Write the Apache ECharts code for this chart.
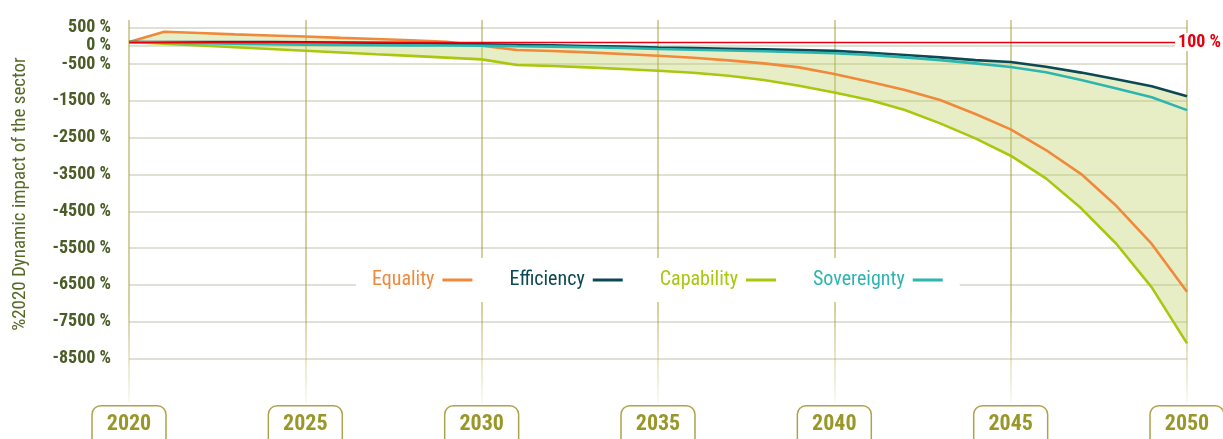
<!DOCTYPE html>
<html>
<head>
<meta charset="utf-8">
<script src="https://cdn.jsdelivr.net/npm/echarts@6/dist/echarts.min.js"></script>
<style>
html,body{margin:0;padding:0;background:#fff;}
#chart{width:1223px;height:439px;}
</style>
</head>
<body>
<div id="chart"></div>
<script>
const years = [2020,2021,2022,2023,2024,2025,2026,2027,2028,2029,2030,2031,2032,2033,2034,2035,2036,2037,2038,2039,2040,2041,2042,2043,2044,2045,2046,2047,2048,2049,2050];
const equality = [100,380,345,310,280,250,215,185,150,110,0,-117,-144,-180,-226,-272,-326,-397,-479,-588,-770,-978,-1205,-1476,-1857,-2273,-2836,-3489,-4358,-5389,-6688];
const efficiency = [100,100,100,100,100,95,90,80,70,55,40,25,10,-5,-25,-50,-65,-80,-100,-120,-140,-190,-250,-315,-390,-440,-570,-730,-910,-1100,-1370];
const capability = [100,53,6,-41,-89,-136,-183,-230,-276,-323,-370,-525,-552,-588,-634,-680,-734,-816,-933,-1088,-1270,-1476,-1748,-2110,-2518,-2990,-3606,-4421,-5391,-6569,-8091];
const sovereignty = [100,85,70,55,40,30,20,15,10,5,0,-15,-25,-40,-60,-90,-110,-130,-150,-175,-205,-250,-315,-390,-480,-580,-720,-930,-1160,-1400,-1750];
const yTicks = [500,0,-500,-1500,-2500,-3500,-4500,-5500,-6500,-7500,-8500];
const referenceValue = 100;
const yAxisName = '%2020 Dynamic impact of the sector';

const names = ['Equality','Efficiency','Capability','Sovereignty'];
const colors = ['#f0893a','#0c4954','#a9c70f','#2db5b0'];
const seriesData = [equality, efficiency, capability, sovereignty];

const FONT = "'Roboto Condensed','Liberation Sans Narrow','Arial Narrow','Roboto',sans-serif";

const lower = years.map((y,i)=>Math.min(...seriesData.map(s=>s[i])));
const upper = years.map((y,i)=>Math.max(...seriesData.map(s=>s[i])));

const chart = echarts.init(document.getElementById('chart'));

const series = [
  {
    name:'band', type:'custom', silent:true, z:1, clip:true,
    data:[0],
    renderItem:function(params, api){
      const pts = [];
      for (let i=0;i<years.length;i++) pts.push(api.coord([years[i], upper[i]]));
      for (let i=years.length-1;i>=0;i--) pts.push(api.coord([years[i], lower[i]]));
      return {type:'polygon', shape:{points:pts}, style:{fill:'rgba(189,209,98,0.36)'}};
    }
  }
];
names.forEach((n,k)=>{
  series.push({
    name:n, type:'line', symbol:'none',
    data: years.map((y,i)=>[y, seriesData[k][i]]),
    lineStyle:{color:colors[k], width:2.6},
    itemStyle:{color:colors[k]},
    z:3
  });
});
series.push({
  name:'reference', type:'line', data:[], z:2, silent:true,
  markLine:{
    silent:true, symbol:'none',
    lineStyle:{color:'#e8000f', width:1.3, type:'solid', opacity:1},
    label:{
      show:true, position:'end', formatter:referenceValue + ' %',
      color:'#e3000f', fontSize:18, fontWeight:'bold', fontFamily:FONT,
      align:'right', distance:34, backgroundColor:'#fff', padding:[0,0,0,3]
    },
    data:[{yAxis:referenceValue}]
  }
});

const option = {
  animation:false,
  backgroundColor:'#fff',
  grid:{left:129, right:36, top:20, bottom:36.5, containLabel:false, outerBoundsMode:'none'},
  xAxis:{
    type:'value', min:2020, max:2050, interval:5,
    axisLine:{show:false}, axisTick:{show:false},
    splitLine:{show:true, lineStyle:{width:1.5, color:{
      type:'linear', x:0, y:20, x2:0, y2:402, global:true,
      colorStops:[{offset:0,color:'rgba(155,150,40,0.6)'},{offset:0.75,color:'rgba(155,150,40,0.6)'},{offset:1,color:'rgba(155,150,40,0.08)'}]
    }}},
    axisLabel:{
      showMinLabel:true, showMaxLabel:true,
      formatter:v=>String(v),
      color:'#9a972a', fontSize:22, fontWeight:'bold', fontFamily:FONT,
      borderColor:'#aca448', borderWidth:1.5, borderRadius:8,
      padding:[7,14,12,14], margin:4, backgroundColor:'#fff'
    }
  },
  yAxis:{
    type:'value', min:-9700, max:700,
    axisLine:{show:false},
    axisTick:{show:false, customValues:yTicks},
    splitLine:{show:true, lineStyle:{color:'#d6d6c4', width:1.5}},
    axisLabel:{
      customValues:yTicks,
      formatter:v=>v + ' %',
      color:'#4b5d27', fontSize:18, fontWeight:'bold', fontFamily:FONT, margin:18
    }
  },
  legend:{
    data:names.map((n,k)=>({name:n, textStyle:{color:colors[k]}})),
    left:356, top:258, align:'right', icon:'rect', itemWidth:30, itemHeight:3,
    itemGap:37, backgroundColor:'#fff', padding:[12,17,12,16],
    textStyle:{fontSize:20, fontFamily:FONT, padding:[0,3,0,0]},
    selectedMode:false
  },
  graphic:[{
    type:'text', x:20, y:194, rotation:Math.PI/2,
    style:{text:yAxisName, fill:'#566a27', fontSize:19, fontFamily:FONT, align:'center', verticalAlign:'middle'}
  }],
  series:series
};
chart.setOption(option);
</script>
</body>
</html>
